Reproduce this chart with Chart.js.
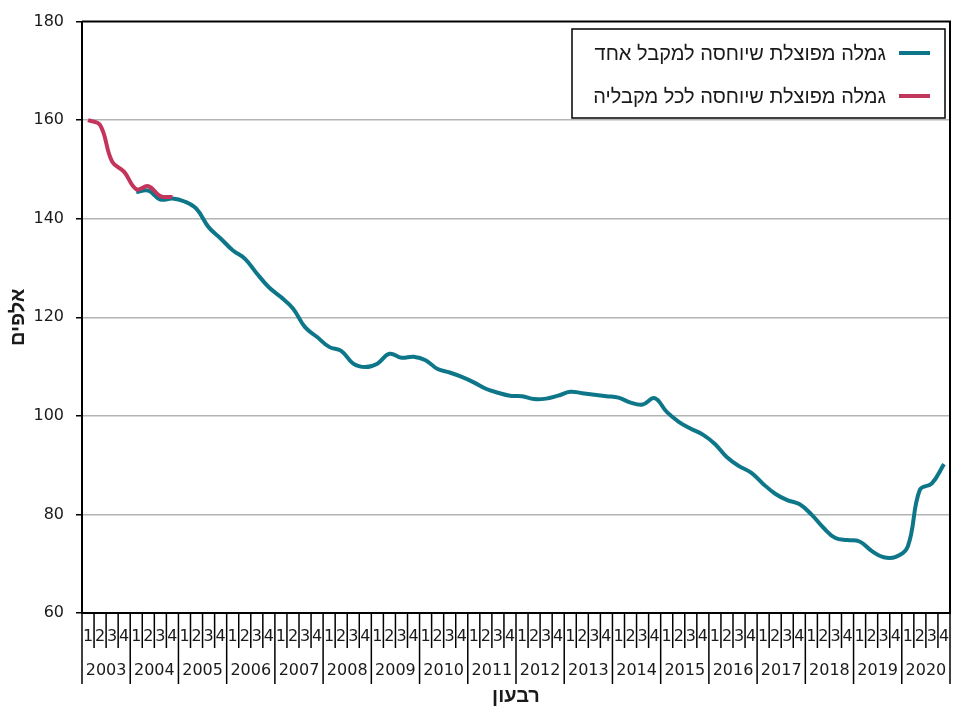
<!DOCTYPE html>
<html>
<head>
<meta charset="utf-8">
<script src="https://cdn.jsdelivr.net/npm/chart.js@4/dist/chart.umd.min.js"></script>
<style>
  html, body { margin: 0; padding: 0; background: #fff; }
  #wrap { width: 956px; height: 706px; }
</style>
</head>
<body>
<div id="wrap"><canvas id="canvas" dir="rtl" width="956" height="706"></canvas></div>
<script>
// quarters and years on the x axis
const quarters = ['1', '2', '3', '4'];
const years = ['2003', '2004', '2005', '2006', '2007', '2008', '2009', '2010', '2011',
  '2012', '2013', '2014', '2015', '2016', '2017', '2018', '2019', '2020'];

// thousands, one value per quarter (null = no data)
const singleRecipient = [null, null, null, null,
  145.4, 145.7, 143.9, 144.1, 143.5, 142.0, 138.3, 136.0, 133.6, 131.9, 128.9, 126.1,
  124.1, 121.8, 118.0, 116.0, 114.0, 113.2, 110.6, 109.9, 110.6, 112.6, 111.8, 112.0,
  111.3, 109.5, 108.8, 107.9, 106.8, 105.5, 104.7, 104.1, 104.0, 103.4, 103.5, 104.1,
  104.9, 104.6, 104.3, 104.0, 103.7, 102.7, 102.3, 103.6, 100.8, 98.8, 97.4, 96.2,
  94.3, 91.6, 89.8, 88.5, 86.2, 84.2, 82.9, 82.1, 80.0, 77.3, 75.2, 74.8,
  74.5, 72.6, 71.3, 71.4, 73.5, 85.0, 86.3, 90.2];
const allRecipients = [160.0, 159.0, 151.6, 149.5, 146.0, 146.6, 144.6, 144.4];

const seriesNames = ['גמלה מפוצלת שיוחסה למקבל אחד', 'גמלה מפוצלת שיוחסה לכל מקבליה'];
const yTitle = 'אלפים';
const xTitle = 'רבעון';

const FONT = "'DejaVu Sans', sans-serif";
const HEB = "'Liberation Sans', 'DejaVu Sans', sans-serif";
const INK = '#1a1a1a';

let labels = [];
years.forEach((y) => {
  quarters.forEach((q) => labels.push(y + ' ' + q));
});

// quarter / year labels under the axis, with their separators
const quarterAxis = {
  id: 'quarterAxis',
  afterDraw(chart) {
    const ctx = chart.ctx;
    const x = chart.scales.x;
    const area = chart.chartArea;
    const step = x.getPixelForValue(1) - x.getPixelForValue(0);
    ctx.save();
    ctx.direction = 'ltr';
    ctx.strokeStyle = '#000';
    ctx.lineWidth = 1.5;
    for (let k = 0; k <= labels.length; k++) {
      const px = x.getPixelForValue(0) - step / 2 + k * step;
      const long = k % 4 === 0;
      ctx.beginPath();
      ctx.moveTo(px, area.bottom);
      ctx.lineTo(px, area.bottom + (long ? 71 : 35));
      ctx.stroke();
    }
    ctx.fillStyle = INK;
    ctx.textAlign = 'center';
    ctx.textBaseline = 'middle';
    ctx.font = '16px ' + FONT;
    labels.forEach((l, i) => {
      ctx.fillText(quarters[i % 4], x.getPixelForValue(i), area.bottom + 24);
    });
    years.forEach((y, j) => {
      const c = (x.getPixelForValue(j * 4) + x.getPixelForValue(j * 4 + 3)) / 2;
      ctx.fillText(y, c, area.bottom + 58);
    });

    // frame
    ctx.lineWidth = 2;
    ctx.beginPath();
    ctx.moveTo(area.left, area.top);
    ctx.lineTo(area.right, area.top);
    ctx.lineTo(area.right, area.bottom);
    ctx.stroke();

    // legend box
    ctx.fillStyle = '#fff';
    ctx.fillRect(572, 29, 373, 89);
    ctx.lineWidth = 1.5;
    ctx.strokeRect(572, 29, 373, 89);
    ctx.direction = 'rtl';
    ctx.font = '20px ' + HEB;
    ctx.textAlign = 'right';
    const rows = [53, 96];
    [0, 1].forEach((d) => {
      const ds = chart.data.datasets[d];
      ctx.strokeStyle = ds.borderColor;
      ctx.lineWidth = 4;
      ctx.beginPath();
      ctx.moveTo(899, rows[d]);
      ctx.lineTo(930, rows[d]);
      ctx.stroke();
      ctx.fillStyle = INK;
      ctx.fillText(ds.label, 886, rows[d] + 1);
    });
    ctx.restore();
  }
};

new Chart(document.getElementById('canvas'), {
  type: 'line',
  data: {
    labels: labels,
    datasets: [
      {
        label: seriesNames[0],
        data: singleRecipient,
        borderColor: '#0d7789',
        borderWidth: 4,
        pointRadius: 0,
        tension: 0.4,
        order: 1
      },
      {
        label: seriesNames[1],
        data: allRecipients,
        borderColor: '#c2365c',
        borderWidth: 4,
        pointRadius: 0,
        tension: 0.4,
        order: 0
      }
    ]
  },
  options: {
    responsive: false,
    animation: false,
    layout: { padding: { left: 0, right: 6, top: 13, bottom: 0 } },
    plugins: {
      legend: { display: false },
      tooltip: { enabled: false }
    },
    scales: {
      x: {
        type: 'category',
        offset: true,
        border: { display: true, color: '#000', width: 2 },
        grid: { drawOnChartArea: false, drawTicks: true, tickLength: 69, tickColor: 'rgba(0,0,0,0)' },
        ticks: { display: false },
        title: {
          display: true, text: xTitle, color: INK,
          font: { family: HEB, size: 20, weight: 'bold', lineHeight: 1 },
          padding: { top: 4, bottom: 0 }
        }
      },
      y: {
        min: 60,
        max: 180,
        border: { display: true, color: '#000', width: 2 },
        grid: {
          color: (c) => (c.tick && (c.tick.value === 60 || c.tick.value === 180)) ? 'rgba(0,0,0,0)' : '#b4b4b4',
          lineWidth: 1.5,
          tickColor: '#000',
          tickLength: 6
        },
        ticks: {
          stepSize: 20,
          padding: 12,
          color: INK,
          font: { family: FONT, size: 16 }
        },
        title: {
          display: true, text: yTitle, color: INK,
          font: { family: HEB, size: 20, weight: 'bold', lineHeight: 1 },
          padding: { top: 8, bottom: 0 }
        },
        afterFit(scale) { scale.width = 82; }
      }
    }
  },
  plugins: [quarterAxis]
});
</script>
</body>
</html>
